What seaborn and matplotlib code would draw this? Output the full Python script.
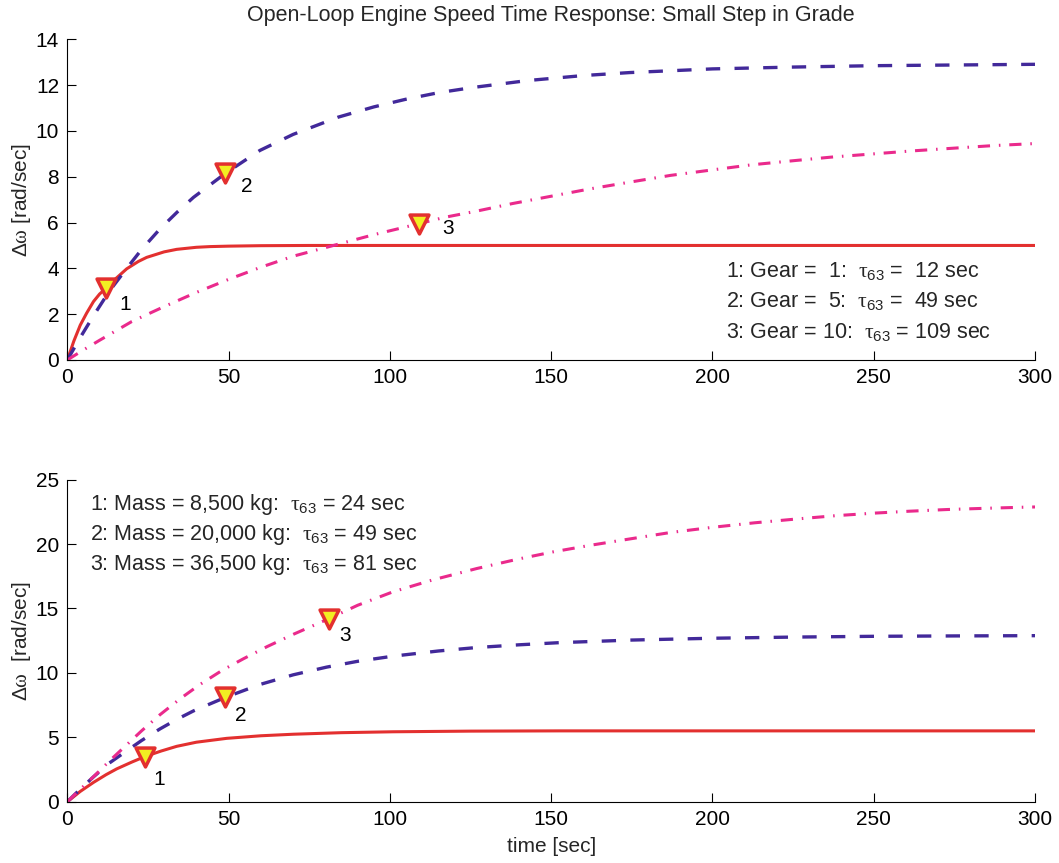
import numpy as np
import pandas as pd
import matplotlib
matplotlib.use("Agg")
import matplotlib.pyplot as plt
import seaborn as sns

# ---------------- data ----------------
# Top panel: response for three gears
gear_labels = ["1", "2", "3"]
gear_tau = [12, 49, 109]
gear_tau_value = [3.13, 8.15, 5.95]

gear1_t = [0, 2, 4, 6, 8.1, 10, 12, 15, 18.4, 22, 24.6, 30, 33.9, 40, 44.2, 50, 60, 75, 100, 150, 200, 250, 300]
gear1_v = [0, 0.82, 1.52, 2.05, 2.55, 2.88, 3.13, 3.55, 3.98, 4.30, 4.48, 4.72, 4.83, 4.92, 4.95, 4.97, 4.99, 5.0, 5.0, 5.0, 5.0, 5.0, 5.0]

gear5_t = [0, 4, 8.1, 13, 18.4, 23, 28.7, 34, 39.1, 49, 59.7, 70, 83.9, 95, 104.8, 115, 125.8,
           142.6, 160, 174.4, 200, 225, 250, 275, 300]
gear5_v = [0, 0.98, 1.93, 3.0, 4.0, 4.82, 5.72, 6.45, 7.1, 8.15, 9.15, 9.85, 10.6, 11.05, 11.38, 11.67, 11.9,
           12.2, 12.42, 12.55, 12.71, 12.79, 12.85, 12.88, 12.91]

gear10_t = [0, 5, 10, 20, 30, 40, 50, 60, 70, 82.5, 95, 109, 117, 126.9, 138, 150, 162, 175, 187,
            200, 212, 225, 237, 250, 262, 275, 287, 300]
gear10_v = [0, 0.44, 0.86, 1.68, 2.33, 2.95, 3.52, 4.05, 4.53, 5.0, 5.47, 5.95, 6.23, 6.5, 6.83, 7.15, 7.47,
            7.78, 8.06, 8.3, 8.52, 8.7, 8.86, 9.0, 9.13, 9.25, 9.36, 9.45]

# Bottom panel: response for three vehicle masses
mass_labels = ["1", "2", "3"]
mass_tau = [24, 49, 81]
mass_tau_value = [3.5, 8.1, 14.2]

mass1_t = [0, 4, 8.1, 12, 15.3, 20, 24, 29, 33.9, 40, 49.4, 60, 70.1, 85, 101, 125, 152.7, 200, 250, 300]
mass1_v = [0, 0.8, 1.5, 2.1, 2.55, 3.08, 3.5, 3.93, 4.3, 4.62, 4.92, 5.12, 5.24, 5.36, 5.43, 5.48, 5.5, 5.5, 5.5, 5.5]

mass2_t = [0, 4, 8.1, 13, 18.4, 23, 28.7, 34, 39.1, 49, 59.7, 70, 80.4, 90, 101, 115, 126.9, 140,
           152.7, 175, 200, 225, 250, 275, 300]
mass2_v = [0, 0.98, 1.93, 3.0, 3.95, 4.75, 5.65, 6.4, 7.05, 8.1, 9.1, 9.85, 10.45, 10.9, 11.3, 11.7, 11.97, 12.18,
           12.35, 12.55, 12.69, 12.78, 12.84, 12.87, 12.89]

mass3_t = [0, 5, 8.1, 13, 18.4, 23, 28.7, 35, 41.1, 48, 54.6, 62, 70.1, 81, 90, 101, 113, 126.9, 140,
           150.7, 162, 174.4, 187, 200, 213, 226.2, 238, 250, 261, 272.6, 285, 296.3, 300]
mass3_v = [0, 1.2, 1.94, 3.15, 4.42, 5.5, 6.75, 8.0, 9.1, 10.2, 11.1, 12.05, 13.0, 14.2, 15.25, 16.3, 17.2, 18.1,
           18.85, 19.4, 19.9, 20.4, 20.9, 21.3, 21.65, 21.95, 22.2, 22.4, 22.55, 22.68, 22.78, 22.86, 22.88]

gear_notes = [r"1: Gear =  1:  $\tau_{63}$ =  12 sec",
              r"2: Gear =  5:  $\tau_{63}$ =  49 sec",
              r"3: Gear = 10:  $\tau_{63}$ = 109 sec"]
mass_notes = [r"1: Mass = 8,500 kg:  $\tau_{63}$ = 24 sec",
              r"2: Mass = 20,000 kg:  $\tau_{63}$ = 49 sec",
              r"3: Mass = 36,500 kg:  $\tau_{63}$ = 81 sec"]

# ---------------- style ----------------
sns.set_theme(style="white")
plt.rcParams["font.family"] = ["Liberation Sans", "DejaVu Sans"]
plt.rcParams["mathtext.fontset"] = "custom"
plt.rcParams["mathtext.rm"] = "Liberation Sans"
plt.rcParams["mathtext.it"] = "Liberation Serif"
plt.rcParams["mathtext.bf"] = "Liberation Sans:bold"

RED = "#e3302f"
BLUE = "#42299a"
MAGENTA = "#ea2a8c"
FACE = "#f2ee22"

line_styles = [
    dict(color=RED, lw=2.2, linestyle="-"),
    dict(color=BLUE, lw=2.4, linestyle=(0, (4.3, 4.3))),
    dict(color=MAGENTA, lw=2.2, linestyle=(0, (4.0, 2.9, 0.5, 2.9))),
]

TICK_FS = 15
NOTE_FS = 15.5

fig = plt.figure(figsize=(10.59, 8.63), dpi=100)
ax_top = fig.add_axes([0.0636, 0.5829, 0.9138, 0.3715])
ax_bot = fig.add_axes([0.0636, 0.0710, 0.9138, 0.3732])


def draw_panel(ax, series, taus, tau_vals, labels, label_offsets):
    for (t, v), st in zip(series, line_styles):
        sns.lineplot(x=t, y=v, ax=ax, estimator=None, sort=False, **st)
    sns.scatterplot(x=taus, y=tau_vals, ax=ax, marker="v", s=185, color=FACE,
                    edgecolor=RED, linewidth=2.5, zorder=5)
    for x, y, lab, off in zip(taus, tau_vals, labels, label_offsets):
        ax.annotate(lab, (x, y), xytext=off, textcoords="offset pixels",
                    ha="center", va="center", fontsize=TICK_FS, color="black")
    ax.set_xlim(0, 300)
    ax.set_xticks(np.arange(0, 301, 50))
    for s in ("top", "right"):
        ax.spines[s].set_visible(False)
    for s in ("left", "bottom"):
        ax.spines[s].set_color("black")
        ax.spines[s].set_linewidth(0.8)
    ax.tick_params(direction="in", length=6.8, width=0.8, colors="black",
                   labelsize=TICK_FS, pad=6, left=True, bottom=True)


draw_panel(ax_top,
           [(gear1_t, gear1_v), (gear5_t, gear5_v), (gear10_t, gear10_v)],
           gear_tau, gear_tau_value, gear_labels,
           [(19, -16), (21, -13), (29, -5)])
ax_top.set_ylim(0, 14)
ax_top.set_yticks(np.arange(0, 15, 2))
ax_top.set_ylabel(r"$\Delta\omega$ [rad/sec]", fontsize=TICK_FS, labelpad=2)
ax_top.set_title("Open-Loop Engine Speed Time Response: Small Step in Grade",
                 fontsize=15.5, pad=13)
for y, note in zip([0.26, 0.164, 0.0677], gear_notes):
    ax_top.text(0.681, y, note, transform=ax_top.transAxes, fontsize=NOTE_FS,
                va="baseline", ha="left")

draw_panel(ax_bot,
           [(mass1_t, mass1_v), (mass2_t, mass2_v), (mass3_t, mass3_v)],
           mass_tau, mass_tau_value, mass_labels,
           [(14, -23), (15, -18), (16, -17)])
ax_bot.set_ylim(0, 25)
ax_bot.set_yticks(np.arange(0, 26, 5))
ax_bot.set_ylabel(r"$\Delta\omega$  [rad/sec]", fontsize=TICK_FS, labelpad=2)
ax_bot.set_xlabel("time [sec]", fontsize=TICK_FS, labelpad=6)
for y, note in zip([0.9056, 0.8125, 0.7194], mass_notes):
    ax_bot.text(0.0235, y, note, transform=ax_bot.transAxes, fontsize=NOTE_FS,
                va="baseline", ha="left")

fig.savefig("out.png", dpi=100, facecolor="white")
